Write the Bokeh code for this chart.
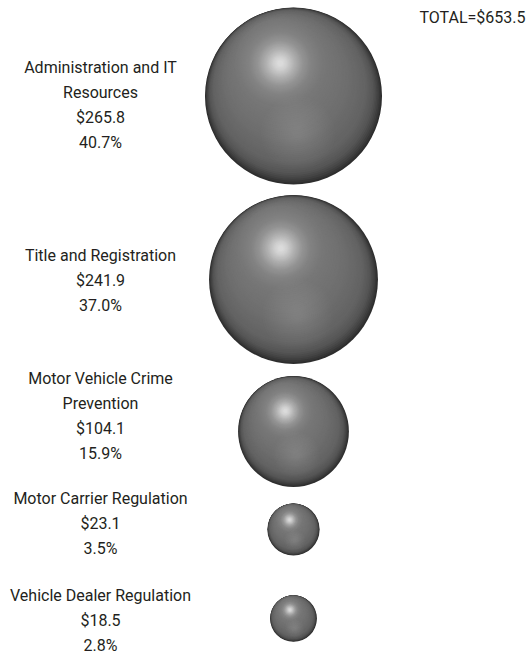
from bokeh.plotting import figure
from bokeh.models import Range1d, ColumnDataSource
from bokeh.core.properties import value
from bokeh.embed import file_html
from bokeh.resources import INLINE
import math

# ---- data ----
categories = ["Administration and IT Resources", "Title and Registration",
              "Motor Vehicle Crime Prevention", "Motor Carrier Regulation",
              "Vehicle Dealer Regulation"]
label_lines = [["Administration and IT", "Resources"], ["Title and Registration"],
               ["Motor Vehicle Crime", "Prevention"], ["Motor Carrier Regulation"],
               ["Vehicle Dealer Regulation"]]
amounts = [265.8, 241.9, 104.1, 23.1, 18.5]
percents = [40.7, 37.0, 15.9, 3.5, 2.8]
total = 653.5

# ---- layout / style ----
W, H = 526, 656
FONT = "Roboto"
FS = "16px"
Y_ADJ = -0.5
TXT = "#231f20"
K = 5.43                      # radius per sqrt($)
sphere_x = 293
sphere_y = [95.5, 279, 431, 529, 618]
label_x = 100
label_first_y = [67, 255, 378.5, 498, 595]
line_h = 25

p = figure(width=W, height=H, output_backend="svg", toolbar_location=None,
           x_range=Range1d(0, W), y_range=Range1d(H, 0), min_border=0,
           outline_line_color=None)
p.axis.visible = False
p.grid.visible = False
p.background_fill_color = "white"
p.border_fill_color = "white"

stops = [(0.0, 0x2e), (0.03, 0x42), (0.07, 0x55), (0.14, 0x63), (0.3, 0x6e),
         (0.5, 0x77), (0.64, 0x82), (0.74, 0x94), (0.84, 0xb2), (0.92, 0xcf), (1.0, 0xe2)]

def gray(t):
    for (t0, g0), (t1, g1) in zip(stops[:-1], stops[1:]):
        if t <= t1:
            f = (t - t0) / (t1 - t0)
            g = int(round(g0 + (g1 - g0) * f))
            return "#%02x%02x%02x" % (g, g, g)
    g = stops[-1][1]
    return "#%02x%02x%02x" % (g, g, g)

xs, ys, rs, cs = [], [], [], []
rx, ry, rr = [], [], []
N = 80
for v, cy in zip(amounts, sphere_y):
    R = K * math.sqrt(v)
    hx, hy = -0.15 * R, -0.37 * R
    for i in range(N):
        t = 0.97 * i / (N - 1)
        f = min(1.0, t / 0.5)
        xs.append(sphere_x + hx * f)
        ys.append(cy + hy * f)
        rs.append(R * (1 - t))
        cs.append(gray(t))
    M = 16
    for j in range(M):
        s = j / M
        rx.append(sphere_x + 0.05 * R)
        ry.append(cy + 0.42 * R)
        rr.append(0.42 * R * (1 - 0.9 * s))

p.circle(x="x", y="y", radius="r", fill_color="c", line_color=None,
         source=ColumnDataSource(dict(x=xs, y=ys, r=rs, c=cs)))
p.circle(x="x", y="y", radius="r", fill_color="#a8a8a8", fill_alpha=0.022, line_color=None,
         source=ColumnDataSource(dict(x=rx, y=ry, r=rr)))

# labels
tx, ty, tt = [], [], []
for lines, a, pc, y0 in zip(label_lines, amounts, percents, label_first_y):
    allines = lines + ["$%.1f" % a, "%.1f%%" % pc]
    for k, s in enumerate(allines):
        tx.append(label_x)
        ty.append(y0 + k * line_h + Y_ADJ)
        tt.append(s)
p.text(x="x", y="y", text="t", source=ColumnDataSource(dict(x=tx, y=ty, t=tt)),
       text_font=value(FONT), text_font_size=FS, text_color=TXT,
       text_align="center", text_baseline="alphabetic")

p.text(x=[W - 1], y=[17 + Y_ADJ], text=["TOTAL=$%.1f" % total], text_font=value(FONT),
       text_font_size=FS, text_color=TXT, text_align="right", text_baseline="alphabetic")

open("out.html", "w").write(file_html(p, INLINE))
